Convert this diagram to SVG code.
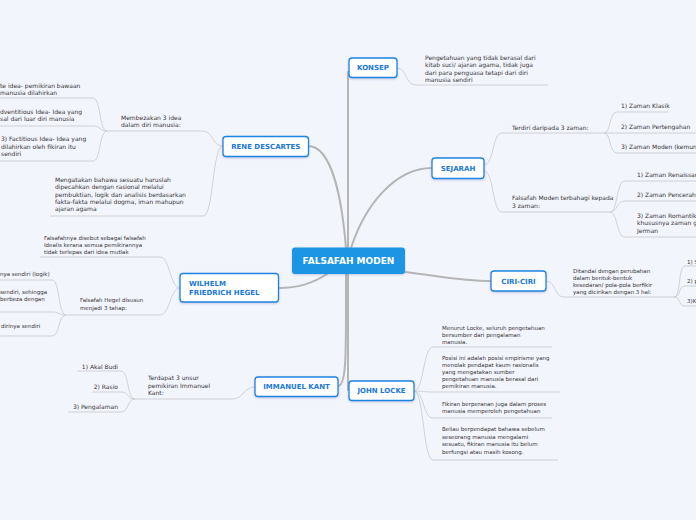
<svg xmlns="http://www.w3.org/2000/svg" width="696" height="520" viewBox="0 0 696 520">
<defs>
<style>
.bg{fill:#f3f5fd}
.node rect.box{fill:#ffffff;stroke:#1c84e2;stroke-width:1.3}
.nt{font-family:"DejaVu Sans",Verdana,sans-serif;font-weight:bold;font-size:7px;fill:#1a78d8}
.t{font-family:"DejaVu Sans",Verdana,sans-serif;font-size:6px;fill:#333333}
.s{font-size:5.5px}
.main{stroke:#b5b5b5;stroke-width:2;fill:none;stroke-linecap:round}
.sub{stroke:#cdcdcd;stroke-width:0.9;fill:none}
</style>
<filter id="sh" x="-10%" y="-20%" width="120%" height="160%">
<feDropShadow dx="0" dy="1" stdDeviation="0.8" flood-color="#6677aa" flood-opacity="0.35"/>
</filter>
</defs>
<rect class="bg" x="0" y="0" width="696" height="520"/>

<g id="connectors">
<path class="main" d="M348,248 L348,72"/>
<path class="main" d="M346,248 C342,200 332,146 308,146"/>
<path class="main" d="M351,248 C365,205 395,168 432,168"/>
<path class="main" d="M327,274 C312,284 298,288 279,288"/>
<path class="main" d="M405,272 C440,276 460,281 491,281"/>
<path class="main" d="M346,274 C346,350 347,386 338,386"/>
<path class="main" d="M348,274 L348,390"/>

<path class="sub" d="M397,68 C407,68 405,85 416,85 L548,85"/>
<path class="sub" d="M484,165 C494,165 492,133 502,133 L604,133"/>
<path class="sub" d="M484,171 C494,171 492,212 502,212 L610,212"/>
<path class="sub" d="M604,133 C611,133 609,112 617,112 L668,112"/>
<path class="sub" d="M604,133 L696,133"/>
<path class="sub" d="M604,133 C611,133 609,153 617,153 L696,153"/>
<path class="sub" d="M610,212 C618,212 616,181 625,181 L696,181"/>
<path class="sub" d="M610,212 C618,212 616,201 625,201 L696,201"/>
<path class="sub" d="M610,212 C618,212 616,237 625,237 L696,237"/>
<path class="sub" d="M546,281 C556,281 554,297 564,297 L674,297"/>
<path class="sub" d="M674,297 C681,297 678,266 685,266 L696,266"/>
<path class="sub" d="M674,297 C681,297 678,286 685,286 L696,286"/>
<path class="sub" d="M674,297 C681,297 678,306 685,306 L696,306"/>
<path class="sub" d="M414,391 C424,391 423,347 433,347 L552,347"/>
<path class="sub" d="M414,391 C424,391 423,392 433,392 L560,392"/>
<path class="sub" d="M414,391 C424,391 423,418 433,418 L552,418"/>
<path class="sub" d="M414,391 C424,391 423,460 433,460 L558,460"/>
<path class="sub" d="M255,387 C244,387 243,399 233,399 L135,399"/>
<path class="sub" d="M135,399 C127,399 129,371 121,371 L77,371"/>
<path class="sub" d="M135,399 C127,399 129,392 121,392 L92,392"/>
<path class="sub" d="M135,399 C127,399 129,412 121,412 L68,412"/>
<path class="sub" d="M180,288 C170,288 170,257 160,257 L40,257"/>
<path class="sub" d="M180,288 C170,288 170,315 160,315 L66,315"/>
<path class="sub" d="M66,315 C58,315 60,280 52,280 L0,280"/>
<path class="sub" d="M66,315 C58,315 60,312 52,312 L0,312"/>
<path class="sub" d="M66,315 C58,315 60,336 52,336 L0,336"/>
<path class="sub" d="M223,146 C212,146 213,131 203,131 L107,131"/>
<path class="sub" d="M223,146 C212,146 214,216 203,216 L50,216"/>
<path class="sub" d="M107,131 C99,131 101,98 93,98 L0,98"/>
<path class="sub" d="M107,131 C99,131 101,126 93,126 L0,126"/>
<path class="sub" d="M107,131 C99,131 101,161 93,161 L0,161"/>
</g>

<g id="falsafah-moden">
<rect x="292" y="247.5" width="113" height="26.5" rx="3" fill="#1b96e4" filter="url(#sh)"/>
<text x="348.5" y="264.3" text-anchor="middle" font-family="DejaVu Sans,Verdana,sans-serif" font-weight="bold" font-size="9px" fill="#ffffff">FALSAFAH MODEN</text>
</g>

<g id="konsep" class="node">
<rect class="box" x="349" y="58" width="48" height="19.5" rx="3" filter="url(#sh)"/>
<text class="nt" x="373" y="70.3" text-anchor="middle">KONSEP</text>
</g>
<g id="konsep-text">
<text class="t" x="425" y="60">Pengetahuan yang tidak berasal dari</text>
<text class="t" x="425" y="67.3">kitab suci/ ajaran agama, tidak juga</text>
<text class="t" x="425" y="74.6">dari para penguasa tetapi dari diri</text>
<text class="t" x="425" y="81.9">manusia sendiri</text>
</g>

<g id="rene-descartes" class="node">
<rect class="box" x="223" y="136.5" width="85.5" height="20" rx="3" filter="url(#sh)"/>
<text class="nt" x="265.7" y="149.2" text-anchor="middle">RENE DESCARTES</text>
</g>
<g id="descartes-idea">
<text class="t" x="121" y="119.5">Membezakan 3 idea</text>
<text class="t" x="121" y="127">dalam diri manusia:</text>
</g>
<g id="descartes-idea-1">
<text class="t" x="0" y="88">te idea- pemikiran bawaan</text>
<text class="t" x="0" y="94.5">manusia dilahirkan</text>
</g>
<g id="descartes-idea-2">
<text class="t" x="0" y="113.7">dventitious Idea- Idea yang</text>
<text class="t" x="0" y="121.3">sal dari luar diri manusia</text>
</g>
<g id="descartes-idea-3">
<text class="t" x="1" y="141.3">3) Factitious Idea- Idea yang</text>
<text class="t" x="1" y="148.7">dilahirkan oleh fikiran itu</text>
<text class="t" x="1" y="156.3">sendiri</text>
</g>
<g id="descartes-rasional">
<text class="t" x="55" y="182">Mengatakan bahawa sesuatu haruslah</text>
<text class="t" x="55" y="189.3">dipecahkan dengan rasional melalui</text>
<text class="t" x="55" y="196.6">pembuktian, logik dan analisis berdasarkan</text>
<text class="t" x="55" y="203.9">fakta-fakta melalui dogma, iman mahupun</text>
<text class="t" x="55" y="211.2">ajaran agama</text>
</g>

<g id="sejarah" class="node">
<rect class="box" x="432" y="158" width="52" height="20.5" rx="3" filter="url(#sh)"/>
<text class="nt" x="458" y="171" text-anchor="middle">SEJARAH</text>
</g>
<g id="sejarah-terdiri">
<text class="t" x="512" y="129.5">Terdiri daripada 3 zaman:</text>
<text class="t" x="621" y="107.7">1) Zaman Klasik</text>
<text class="t" x="621" y="128.7">2) Zaman Pertengahan</text>
<text class="t" x="621" y="148.7">3) Zaman Moden (kemun</text>
</g>
<g id="sejarah-moden">
<text class="t" x="512" y="200.3" font-size="5.3px">Falsafah Moden terbahagi kepada</text>
<text class="t" x="512" y="207.5" font-size="5.3px">3 zaman:</text>
<text class="t" x="637" y="177">1) Zaman Renaissan</text>
<text class="t" x="637" y="197">2) Zaman Pencerahan</text>
<text class="t" x="637" y="217.5">3) Zaman Romantik</text>
<text class="t" x="637" y="225">khususnya zaman g</text>
<text class="t" x="637" y="232.5">Jerman</text>
</g>

<g id="ciri-ciri" class="node">
<rect class="box" x="491" y="271" width="55" height="20" rx="3" filter="url(#sh)"/>
<text class="nt" x="518.5" y="283.5" text-anchor="middle">CIRI-CIRI</text>
</g>
<g id="ciri-text">
<text class="t s" x="573" y="272.5">Ditandai dengan perubahan</text>
<text class="t s" x="573" y="279.5">dalam bentuk-bentuk</text>
<text class="t s" x="573" y="286.5">kesedaran/ pola-pola berfikir</text>
<text class="t s" x="573" y="293.5">yang dicirikan dengan 3 hal:</text>
<text class="t s" x="687" y="263.5">1) S</text>
<text class="t s" x="687" y="282.5">2) p</text>
<text class="t s" x="687" y="302.5">3)K</text>
</g>

<g id="wilhelm-friedrich-hegel" class="node">
<rect class="box" x="180" y="273.5" width="98.5" height="28.5" rx="3" filter="url(#sh)"/>
<text class="nt" x="189" y="286">WILHELM</text>
<text class="nt" x="189" y="294.5">FRIEDRICH HEGEL</text>
</g>
<g id="hegel-idealis">
<text class="t s" x="44" y="240">Falsafahnya disebut sebagai falsafah</text>
<text class="t s" x="44" y="246.8">Idealis kerana semua pemikirannya</text>
<text class="t s" x="44" y="253.6">tidak terlepas dari idea mutlak</text>
</g>
<g id="hegel-tahap">
<text class="t s" x="80" y="302">Falsafah Hegel disusun</text>
<text class="t s" x="80" y="310">menjadi 3 tahap:</text>
<text class="t s" x="0" y="275.7">nya sendiri (logik)</text>
<text class="t s" x="0" y="294.3">sendiri, sehingga</text>
<text class="t s" x="0" y="301.3">berbeza dengan</text>
<text class="t s" x="1" y="328.3">dirinya sendiri</text>
</g>

<g id="immanuel-kant" class="node">
<rect class="box" x="255" y="377" width="83" height="19.5" rx="3" filter="url(#sh)"/>
<text class="nt" x="296.5" y="389.3" text-anchor="middle">IMMANUEL KANT</text>
</g>
<g id="kant-unsur">
<text class="t" x="148" y="380">Terdapat 3 unsur</text>
<text class="t" x="148" y="387.5">pemikiran Immanuel</text>
<text class="t" x="148" y="395">Kant:</text>
<text class="t" x="118" y="368.5" text-anchor="end">1) Akal Budi</text>
<text class="t" x="118" y="389" text-anchor="end">2) Rasio</text>
<text class="t" x="118" y="409" text-anchor="end">3) Pengalaman</text>
</g>

<g id="john-locke" class="node">
<rect class="box" x="349" y="381" width="65" height="19.5" rx="3" filter="url(#sh)"/>
<text class="nt" x="381.5" y="393.3" text-anchor="middle">JOHN LOCKE</text>
</g>
<g id="locke-text">
<text class="t s" x="442" y="329.5">Menurut Locke, seluruh pengetahuan</text>
<text class="t s" x="442" y="336.5">bersumber dari pengalaman</text>
<text class="t s" x="442" y="343.5">manusia.</text>
<text class="t s" x="442" y="360">Posisi ini adalah posisi empirisme yang</text>
<text class="t s" x="442" y="367">menolak pendapat kaum rasionalis</text>
<text class="t s" x="442" y="374">yang mengatakan sumber</text>
<text class="t s" x="442" y="381">pengetahuan manusia berasal dari</text>
<text class="t s" x="442" y="388">pemikiran manusia.</text>
<text class="t s" x="442" y="406">Fikiran berperanan juga dalam proses</text>
<text class="t s" x="442" y="413">manusia memperoleh pengetahuan</text>
<text class="t s" x="442" y="431">Beliau berpendapat bahawa sebelum</text>
<text class="t s" x="442" y="438.5">seseorang manusia mengalami</text>
<text class="t s" x="442" y="446">sesuatu, fikiran manusia itu belum</text>
<text class="t s" x="442" y="453.5">berfungsi atau masih kosong.</text>
</g>
</svg>
